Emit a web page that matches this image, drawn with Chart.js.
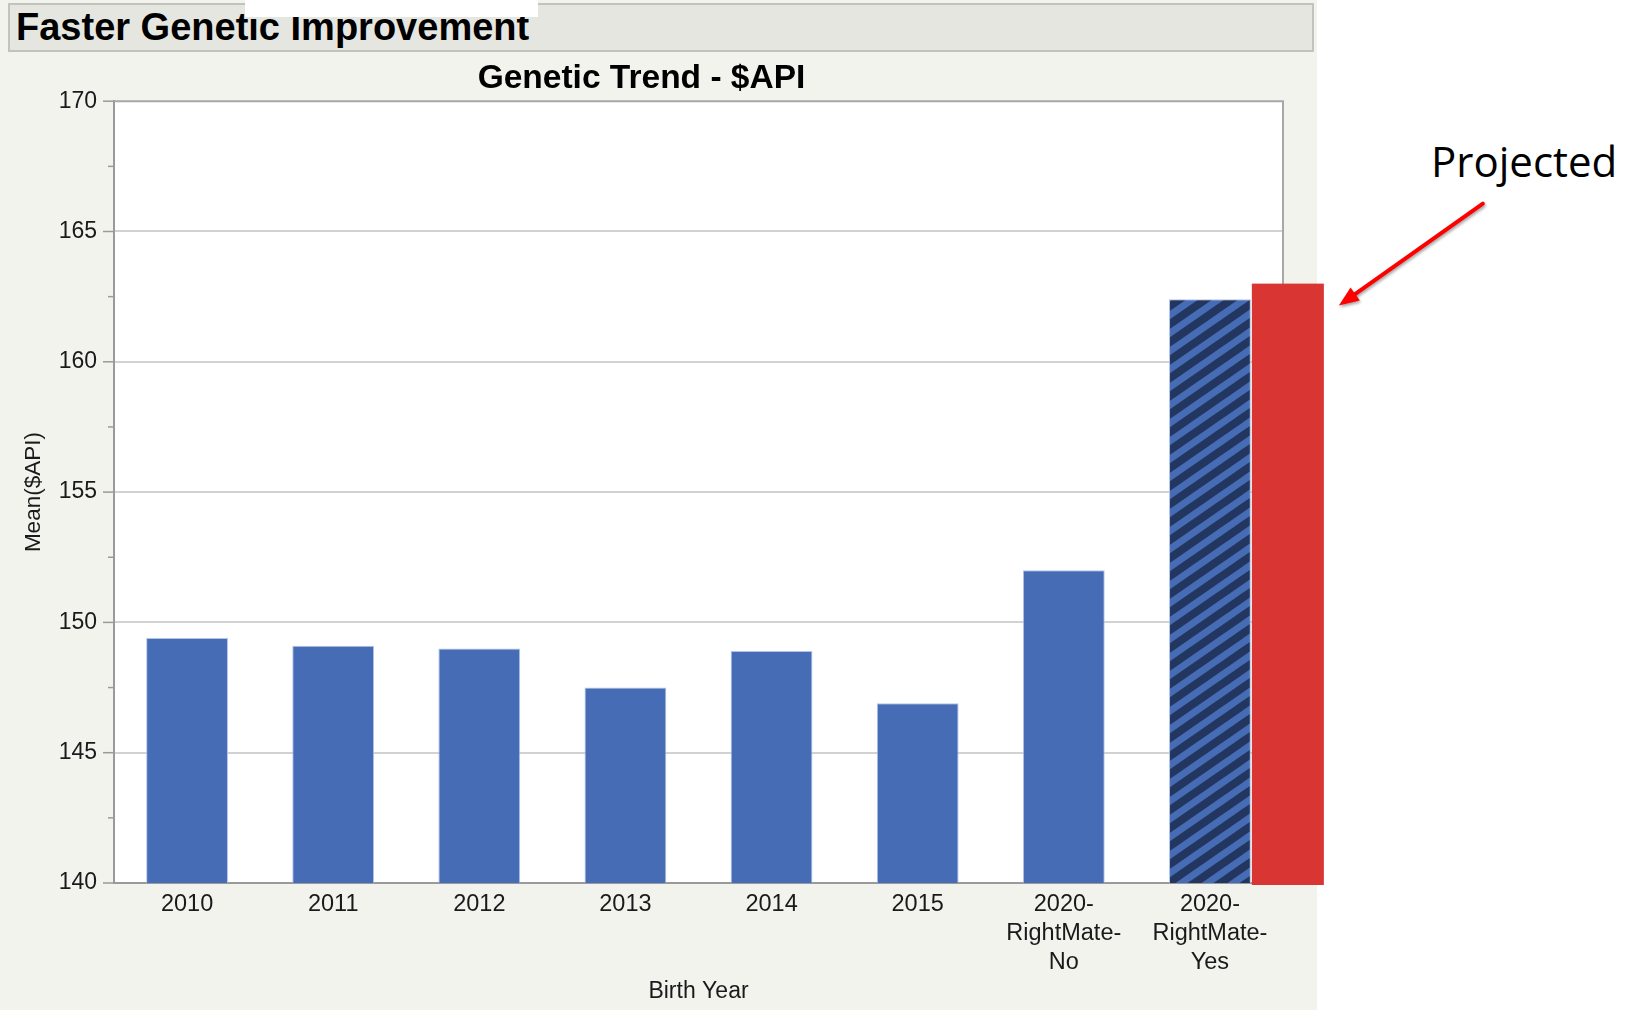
<!DOCTYPE html>
<html>
<head>
<meta charset="utf-8">
<title>Genetic Trend - $API</title>
<script src="https://cdn.jsdelivr.net/npm/chart.js@4.4.0/dist/chart.umd.min.js"></script>
<style>
    html, body { margin: 0; padding: 0; background: #fff; }
    body { width: 1626px; height: 1010px; position: relative; overflow: hidden; font-family: "Liberation Sans", Arial, sans-serif; }
    #panel { position: absolute; left: 0; top: 0; width: 1317px; height: 1010px; background: #f3f3ee; }
    #header { position: absolute; left: 8px; top: 3px; width: 1302px; height: 45px; background: #e6e6e1; border: 2px solid #c2c2be; }
    #header span { position: absolute; left: 6px; top: 3px; font-size: 38px; line-height: 38px; font-weight: bold; color: #000; white-space: nowrap; }
    #patch { position: absolute; left: 245px; top: 0; width: 293px; height: 17px; background: #fff; }
    #note { position: absolute; left: 1431px; top: 140px; font-family: "Open Sans", sans-serif; font-size: 42px; line-height: 42px; color: #000; }
    canvas { position: absolute; left: 0; top: 0; }
</style>
</head>
<body>
<div id="panel"></div>
<div id="header"><span>Faster Genetic Improvement</span></div>
<div id="patch"></div>
<div id="note">Projected</div>
<canvas id="trend" width="1626" height="1010"></canvas>
<script>
'use strict';

// birth year groups and mean $API per group
const birthYears = ['2010', '2011', '2012', '2013', '2014', '2015',
    ['2020-', 'RightMate-', 'No'], ['2020-', 'RightMate-', 'Yes']];
const meanApi = [149.4, 149.1, 149.0, 147.5, 148.9, 146.9, 152.0, 162.4];
// projected value shown next to the RightMate-Yes bar
const projectedApi = [163.0];
const yTicks = [140, 145, 150, 155, 160, 165, 170];

const blue = '#466cb5';
const navy = '#22365f';
const red = '#d93532';

// diagonal stripes for the RightMate-Yes bar
function stripePattern () {
    const w = 26, h = 18;
    const c = document.createElement('canvas');
    c.width = w;
    c.height = h;
    const g = c.getContext('2d');
    g.fillStyle = blue;
    g.fillRect(0, 0, w, h);
    g.strokeStyle = navy;
    g.lineWidth = 8;
    // lines run past the tile edges so the thick strokes join up when tiled
    for (let k = -1; k <= 1; k++) {
        g.beginPath();
        g.moveTo(k * w - w, 2 * h);
        g.lineTo((k + 2) * w, -h);
        g.stroke();
    }
    return g.createPattern(c, 'repeat');
}

const fills = meanApi.map((v, i) => i === meanApi.length - 1 ? stripePattern() : blue);

// white plot background
const plotBackground = {
    id: 'plotBackground',
    beforeDraw(chart) {
        const {ctx, chartArea: a} = chart;
        ctx.save();
        ctx.fillStyle = '#fff';
        ctx.fillRect(a.left, a.top, a.right - a.left, a.bottom - a.top);
        ctx.restore();
    }
};

// frame, y tick marks, projected bar and arrow
const frameAndNotes = {
    id: 'frameAndNotes',
    afterDraw(chart) {
        const {ctx, chartArea: a} = chart;
        const y = chart.scales.y;
        ctx.save();

        ctx.strokeStyle = '#a8a8a8';
        ctx.lineWidth = 2;
        ctx.beginPath();
        ctx.moveTo(a.left, a.top);
        ctx.lineTo(a.right, a.top);
        ctx.lineTo(a.right, a.bottom);
        ctx.stroke();

        ctx.strokeStyle = '#9a9a9a';
        ctx.lineWidth = 1.5;
        const step = yTicks[1] - yTicks[0];
        yTicks.forEach((t) => {
            const py = y.getPixelForValue(t);
            ctx.beginPath();
            ctx.moveTo(a.left - 11, py);
            ctx.lineTo(a.left, py);
            ctx.stroke();
            if (t < yTicks[yTicks.length - 1]) {
                const my = y.getPixelForValue(t + step / 2);
                ctx.beginPath();
                ctx.moveTo(a.left - 6, my);
                ctx.lineTo(a.left, my);
                ctx.stroke();
            }
        });

        // projected bar beside the last bar
        const bars = chart.getDatasetMeta(0).data;
        const last = bars[bars.length - 1];
        const x0 = last.x + last.width / 2 + 1;
        const bw = last.width * 0.88;
        const top = y.getPixelForValue(projectedApi[0]);
        const bottom = y.getPixelForValue(yTicks[0]) + 2;
        ctx.fillStyle = red;
        ctx.fillRect(x0, top, bw, bottom - top);

        // arrow pointing at the projected bar
        const tipX = x0 + bw + 15;
        const tipY = top + 22;
        const tailX = tipX + 144;
        const tailY = tipY - 102;
        const ang = Math.atan2(tipY - tailY, tipX - tailX);
        ctx.shadowColor = 'rgba(0,0,0,0.35)';
        ctx.shadowBlur = 3;
        ctx.shadowOffsetX = 1;
        ctx.shadowOffsetY = 2;
        ctx.strokeStyle = '#ff0000';
        ctx.fillStyle = '#ff0000';
        ctx.lineWidth = 4;
        ctx.lineCap = 'round';
        const headLen = 20;
        ctx.beginPath();
        ctx.moveTo(tailX, tailY);
        ctx.lineTo(tipX - Math.cos(ang) * headLen * 0.8, tipY - Math.sin(ang) * headLen * 0.8);
        ctx.stroke();
        ctx.beginPath();
        ctx.moveTo(tipX, tipY);
        ctx.lineTo(tipX - headLen * Math.cos(ang) + 8 * Math.sin(ang), tipY - headLen * Math.sin(ang) - 8 * Math.cos(ang));
        ctx.lineTo(tipX - headLen * Math.cos(ang) - 8 * Math.sin(ang), tipY - headLen * Math.sin(ang) + 8 * Math.cos(ang));
        ctx.closePath();
        ctx.fill();

        ctx.restore();
    }
};

Chart.defaults.font.family = '"Liberation Sans", Arial, sans-serif';
Chart.defaults.color = '#1a1a1a';

new Chart(document.getElementById('trend'), {
    type: 'bar',
    data: {
        labels: birthYears,
        datasets: [{
            label: 'Mean($API)',
            data: meanApi,
            backgroundColor: fills,
            borderColor: 'rgba(170,190,230,0.9)',
            borderWidth: 1,
            categoryPercentage: 1,
            barPercentage: 0.56
        }]
    },
    options: {
        responsive: false,
        animation: false,
        layout: {
            padding: { top: 55, right: 343, bottom: 0, left: 0 }
        },
        plugins: {
            legend: { display: false },
            tooltip: { enabled: false },
            title: {
                display: true,
                text: 'Genetic Trend - $API',
                color: '#000',
                font: { size: 33.5, weight: 'bold' },
                padding: { top: 4, bottom: 2 }
            }
        },
        scales: {
            x: {
                grid: { display: false },
                border: { display: true, color: '#9a9a9a', width: 2 },
                ticks: {
                    font: { size: 23.5, lineHeight: 1.23 },
                    padding: -1,
                    maxRotation: 0,
                    autoSkip: false
                },
                title: {
                    display: true,
                    text: 'Birth Year',
                    font: { size: 23 },
                    padding: { top: 0, bottom: 5 }
                },
                afterFit: (s) => { s.height = 127; }
            },
            y: {
                min: yTicks[0],
                max: yTicks[yTicks.length - 1],
                ticks: {
                    stepSize: yTicks[1] - yTicks[0],
                    font: { size: 23 },
                    padding: 17
                },
                grid: {
                    drawTicks: false,
                    color: (c) => (c.tick && c.tick.value > yTicks[0] && c.tick.value < yTicks[yTicks.length - 1]) ? '#d2d2d2' : 'transparent',
                    lineWidth: 2
                },
                border: { display: true, color: '#9a9a9a', width: 2 },
                title: {
                    display: true,
                    text: 'Mean($API)',
                    font: { size: 22.5 },
                    padding: { top: 20, bottom: 0 }
                },
                afterFit: (s) => { s.width = 114; }
            }
        }
    },
    plugins: [plotBackground, frameAndNotes]
});
</script>
</body>
</html>
